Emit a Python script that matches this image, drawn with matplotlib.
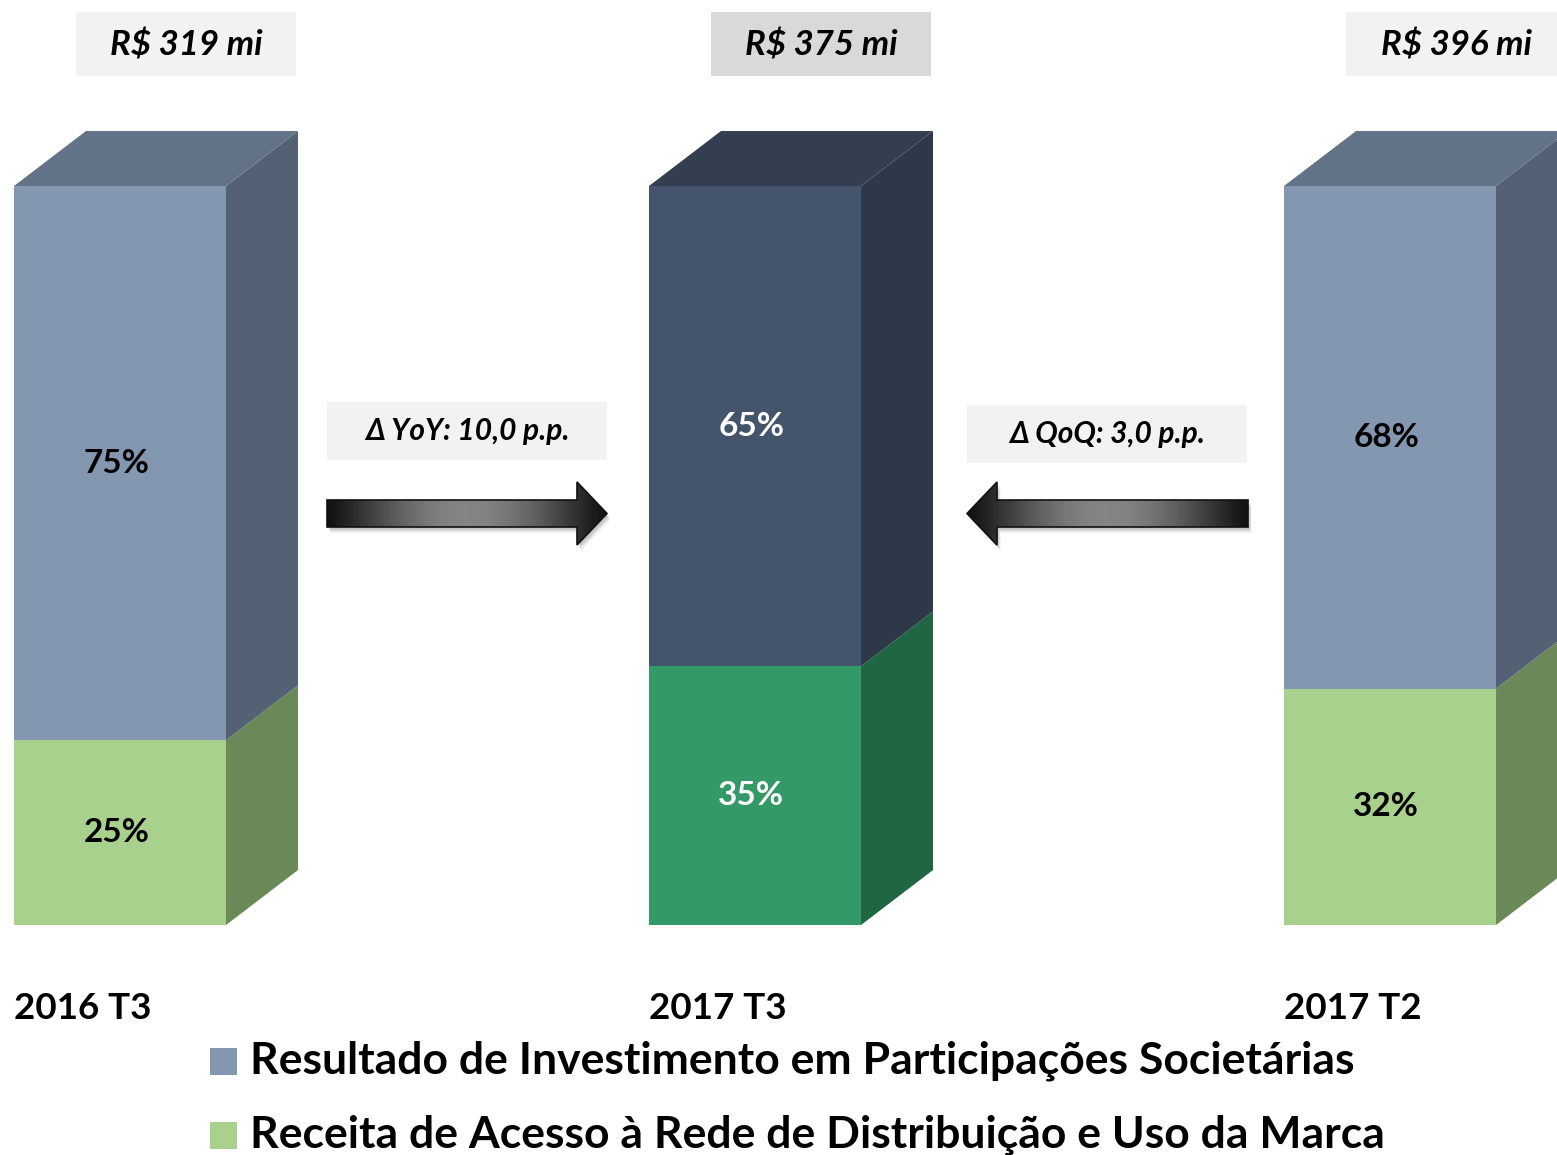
import matplotlib
matplotlib.use("Agg")
import matplotlib.pyplot as plt
import numpy as np
from matplotlib.patches import Polygon, Rectangle

# ---------------- data ----------------
categories = ["2016 T3", "2017 T3", "2017 T2"]
totals_mi = [319, 375, 396]
invest_pct = [75, 65, 68]      # Resultado de Investimento em Participações Societárias
receita_pct = [25, 35, 32]     # Receita de Acesso à Rede de Distribuição e Uso da Marca
delta_labels = ["Δ YoY: 10,0 p.p.", "Δ QoQ: 3,0 p.p."]
legend_labels = ["Resultado de Investimento em Participações Societárias",
                 "Receita de Acesso à Rede de Distribuição e Uso da Marca"]

# ---------------- styles ----------------
FONT = ["Lato", "DejaVu Sans"]
plt.rcParams['font.family'] = FONT

blue_front, blue_side, blue_top = "#8497B0", "#546175", "#627387"
navy_front, navy_side, navy_top = "#44546A", "#2D3849", "#333F50"
lgreen_front, lgreen_side = "#A9D18E", "#6B8858"
dgreen_front, dgreen_side = "#339966", "#216642"

front_top = [blue_front, navy_front, blue_front]
side_top = [blue_side, navy_side, blue_side]
top_top = [blue_top, navy_top, blue_top]
front_bot = [lgreen_front, dgreen_front, lgreen_front]
side_bot = [lgreen_side, dgreen_side, lgreen_side]
label_col = ["black", "white", "black"]
box_col = ["#F2F2F2", "#D9D9D9", "#F2F2F2"]

W, H = 1557, 1155
fig = plt.figure(figsize=(W / 100, H / 100), dpi=100)

# data axes: x = category index, y = percent
ax = fig.add_axes([0, 0, 1, 1])
ax.set_xlim(-0.18898, 2.26299)
ax.set_ylim(-31.12, 125.17)
ax.axis("off")

bw = 0.3339
dx = 0.1134
dy = 7.44
x = np.arange(len(categories))

ax.bar(x, receita_pct, width=bw, color=front_bot, zorder=2)
ax.bar(x, invest_pct, width=bw, bottom=receita_pct, color=front_top, zorder=2)

for i in range(len(categories)):
    xl, xr = x[i] - bw / 2, x[i] + bw / 2
    y0, y1, y2 = 0, receita_pct[i], receita_pct[i] + invest_pct[i]
    ax.add_patch(Polygon([(xr, y0), (xr + dx, y0 + dy), (xr + dx, y1 + dy), (xr, y1)],
                         closed=True, facecolor=side_bot[i], edgecolor="none", zorder=2))
    ax.add_patch(Polygon([(xr, y1), (xr + dx, y1 + dy), (xr + dx, y2 + dy), (xr, y2)],
                         closed=True, facecolor=side_top[i], edgecolor="none", zorder=2))
    ax.add_patch(Polygon([(xl, y2), (xl + dx, y2 + dy), (xr + dx, y2 + dy), (xr, y2)],
                         closed=True, facecolor=top_top[i], edgecolor="none", zorder=2))
    # segment labels
    ax.text(x[i] - 0.006, y1 / 2, f"{receita_pct[i]}%", ha="center", va="center",
            fontsize=24, fontweight="bold", color=label_col[i], zorder=3)
    ax.text(x[i] - 0.006, y1 + invest_pct[i] / 2, f"{invest_pct[i]}%",
            ha="center", va="center", fontsize=24, fontweight="bold", color=label_col[i], zorder=3)
    # category labels
    ax.text(xl, -11.3, categories[i], ha="left", va="center", fontsize=26.5,
            fontweight="bold", color="black", zorder=3)
    # total box
    bx0 = xl + 0.098
    bw_box = 0.3465
    ax.add_patch(Rectangle((bx0, 114.9), bw_box, 8.65, facecolor=box_col[i],
                           edgecolor="none", zorder=1, clip_on=True))
    ax.text(bx0 + bw_box / 2, 119.0, f"R$ {totals_mi[i]} mi",
            ha="center", va="center", fontsize=25, fontweight="bold", style="italic", zorder=3)

# overlay axes in pixel coordinates for arrows, delta boxes and legend
ov = fig.add_axes([0, 0, 1, 1])
ov.set_xlim(0, W)
ov.set_ylim(H, 0)
ov.axis("off")
ov.patch.set_alpha(0)

def arrow(x_tail, x_tip, yc, body_h=27, head_h=63, head_len=30):
    s = np.sign(x_tip - x_tail)
    xb = x_tip - s * head_len
    pts = [(x_tail, yc - body_h / 2), (xb, yc - body_h / 2), (xb, yc - head_h / 2),
           (x_tip, yc), (xb, yc + head_h / 2), (xb, yc + body_h / 2), (x_tail, yc + body_h / 2)]
    # soft shadow
    for k, a in [(6, 0.06), (4.5, 0.08), (3, 0.10)]:
        sh = [(px + k * 0.6, py + k) for px, py in pts]
        ov.add_patch(Polygon(sh, closed=True, facecolor="#000000", alpha=a, edgecolor="none", zorder=1))
    poly = Polygon(pts, closed=True, facecolor="none", edgecolor="#111111", lw=1.2, zorder=3)
    ov.add_patch(poly)
    t = np.linspace(0, 1, 256)
    g = 0.07 + 0.45 * np.sin(np.pi * t) ** 1.2
    img = np.tile(g, (10, 1))
    x0, x1 = min(x_tail, x_tip), max(x_tail, x_tip)
    im = ov.imshow(img, cmap="gray", vmin=0, vmax=1, extent=(x0, x1, yc + head_h / 2, yc - head_h / 2),
                   aspect="auto", zorder=2, interpolation="bilinear")
    im.set_clip_path(poly)

arrow(327, 607, 513.5)
arrow(1248, 967, 513.5)

for (bx0, by0, bx1, by1), lab in zip([(327, 402, 607, 460), (967, 405, 1247, 463)], delta_labels):
    ov.add_patch(Rectangle((bx0, by0), bx1 - bx0, by1 - by0, facecolor="#F2F2F2", edgecolor="none", zorder=1))
    ov.text((bx0 + bx1) / 2, (by0 + by1) / 2, lab, ha="center", va="center",
            fontsize=21.5, fontweight="bold", style="italic", zorder=3)

# legend
for (yc, col, lab) in [(1061, blue_front, legend_labels[0]), (1135, lgreen_front, legend_labels[1])]:
    ov.add_patch(Rectangle((210, yc - 13.5), 27, 27, facecolor=col, edgecolor="none", zorder=2))
    ov.text(250, yc, lab, ha="left", va="center", fontsize=32, fontweight="bold", zorder=3)

ax.set_zorder(1)
ov.set_zorder(2)

fig.savefig("out.png", dpi=100)
